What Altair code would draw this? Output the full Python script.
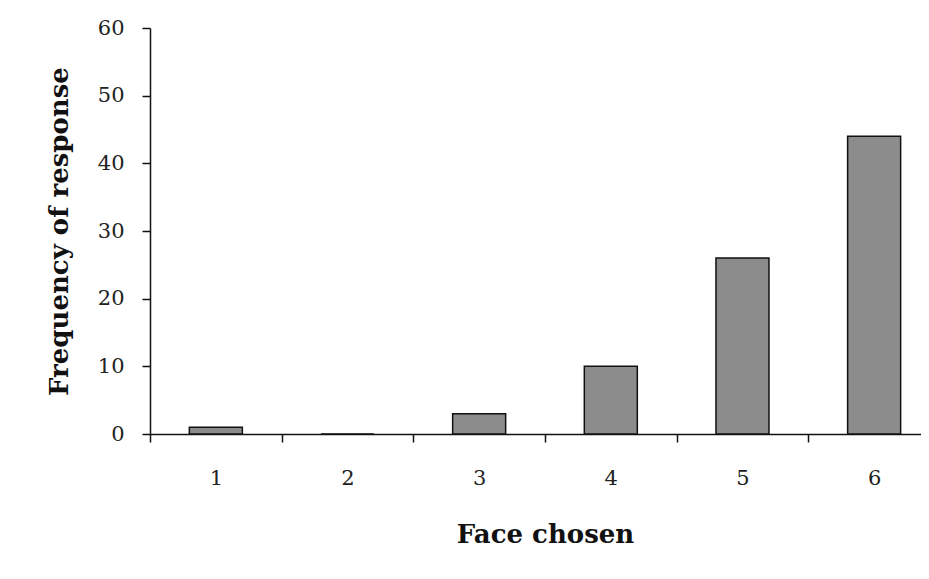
import altair as alt
import pandas as pd

faces = [1, 2, 3, 4, 5, 6]
freq = [1, 0, 3, 10, 26, 44]
y_ticks = [0, 10, 20, 30, 40, 50, 60]

df = pd.DataFrame({"face": faces, "freq": freq})

# category boundaries (tick marks) and centres (labels)
x_values = sorted([f - 0.5 for f in faces] + [faces[-1] + 0.5] + faces)

FONT = "DejaVu Serif"

bars = alt.Chart(df).mark_bar(
    width=53,
    fill="#8c8c8c",
    stroke="#111111",
    strokeWidth=1.5,
).encode(
    x=alt.X(
        "face:Q",
        scale=alt.Scale(domain=[0.5, 6.356], nice=False, zero=False, padding=0),
        axis=alt.Axis(
            title="Face chosen",
            values=x_values,
            labelExpr="datum.value % 1 == 0 ? format(datum.value, 'd') : ''",
            labelOverlap=False,
            labelFlush=False,
            labelAngle=0,
            tickSize=8,
            tickWidth=1.5,
            tickColor="#111111",
            tickOpacity={"condition": {"test": "datum.value % 1 == 0", "value": 0}, "value": 1},
            domainColor="#111111",
            domainWidth=1.5,
            labelFont=FONT,
            labelFontSize=21,
            labelColor="#222222",
            labelPadding=25,
            titleFont=FONT,
            titleFontSize=26,
            titleFontWeight="bold",
            titleColor="#111111",
            titleX=395,
            titleY=108,
            titleBaseline="alphabetic",
            titleAlign="center",
        ),
    ),
    y=alt.Y(
        "freq:Q",
        scale=alt.Scale(domain=[0, 60], nice=False, padding=0),
        axis=alt.Axis(
            title="Frequency of response",
            values=y_ticks,
            grid=False,
            tickSize=8,
            tickWidth=1.5,
            tickColor="#111111",
            domainColor="#111111",
            domainWidth=1.5,
            labelFont=FONT,
            labelFontSize=21,
            labelColor="#222222",
            labelPadding=18,
            titleFont=FONT,
            titleFontSize=26,
            titleFontWeight="bold",
            titleColor="#111111",
            titleAngle=270,
            titleX=-83,
            titleY=203,
            titleBaseline="alphabetic",
            titleAlign="center",
        ),
    ),
).properties(
    width=771,
    height=406,
    autosize=alt.AutoSizeParams(type="none"),
    padding={"left": 142, "top": 20, "right": 0, "bottom": 115},
).configure_view(strokeWidth=0).configure_axis(grid=False)

bars.save("out.html", embed_options={"renderer": "svg", "actions": False})
